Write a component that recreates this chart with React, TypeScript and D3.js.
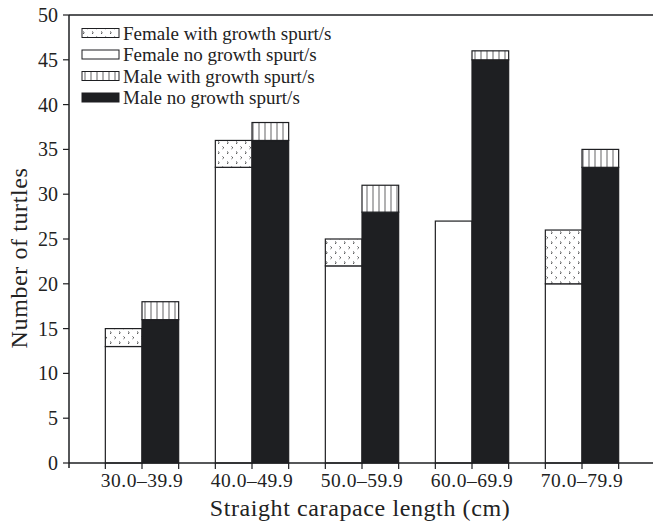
import React from "react";
import * as d3 from "d3";

const categories = ["30.0–39.9", "40.0–49.9", "50.0–59.9", "60.0–69.9", "70.0–79.9"];
const femaleNo = [13, 33, 22, 27, 20];
const femaleWith = [2, 3, 3, 0, 6];
const maleNo = [16, 36, 28, 45, 33];
const maleWith = [2, 2, 3, 1, 2];
const yTicks = [0, 5, 10, 15, 20, 25, 30, 35, 40, 45, 50];
const legendItems = [
  { label: "Female with growth spurt/s", key: "fw" },
  { label: "Female no growth spurt/s", key: "fn" },
  { label: "Male with growth spurt/s", key: "mw" },
  { label: "Male no growth spurt/s", key: "mn" },
];

const W = 653;
const H = 528;
const left = 69;
const top = 15;
const bottom = 463;
const FONT = "'Liberation Serif', 'Times New Roman', serif";
const INK = "#1e1f22";

const fillFor = (k: string) =>
  k === "fw" ? "url(#dots)" : k === "fn" ? "#fff" : k === "mw" ? "url(#vlines)" : INK;

export default function App() {
  const y = d3.scaleLinear().domain([0, 50]).range([bottom, top]);
  const x = d3.scaleBand().domain(categories).range([87, 637]).paddingInner(1 / 3).paddingOuter(1 / 6);
  const bw = x.bandwidth() / 2;

  const bars: any[] = [];
  categories.forEach((c, i) => {
    const x0 = x(c)!;
    const x1 = x0 + bw;
    bars.push({ x: x0, lo: 0, hi: femaleNo[i], k: "fn" });
    if (femaleWith[i] > 0) bars.push({ x: x0, lo: femaleNo[i], hi: femaleNo[i] + femaleWith[i], k: "fw" });
    bars.push({ x: x1, lo: 0, hi: maleNo[i], k: "mn" });
    if (maleWith[i] > 0) bars.push({ x: x1, lo: maleNo[i], hi: maleNo[i] + maleWith[i], k: "mw" });
  });

  const xTickPos: number[] = [];
  categories.forEach((c) => {
    const x0 = x(c)!;
    xTickPos.push(x0, x0 + bw, x0 + 2 * bw);
  });

  return (
    <svg width={W} height={H} style={{ position: "absolute", left: 0, top: 0, background: "#fff" }} fontFamily={FONT}>
      <defs>
        <pattern id="dots" width="9" height="10" patternUnits="userSpaceOnUse">
          <rect width="9" height="10" fill="#fff" />
          <path d="M2,1.5 l1.3,1.2 l-1.3,1.2 M6.5,6.5 l1.3,1.2 l-1.3,1.2" stroke={INK} strokeWidth="0.8" fill="none" />
        </pattern>
        <pattern id="vlines" width="6" height="10" patternUnits="userSpaceOnUse" x="0.5">
          <rect width="6" height="10" fill="#fff" />
          <line x1="0" y1="0" x2="0" y2="10" stroke={INK} strokeWidth="1.4" />
        </pattern>
      </defs>

      {bars.map((b, i) => (
        <rect
          key={i}
          x={b.x}
          y={y(b.hi)}
          width={bw}
          height={y(b.lo) - y(b.hi)}
          fill={fillFor(b.k)}
          stroke={INK}
          strokeWidth={1.2}
        />
      ))}

      {/* axes */}
      <line x1={left} y1={top} x2={W} y2={top} stroke={INK} strokeWidth={1.5} />
      <line x1={left} y1={top} x2={left} y2={bottom + 5} stroke={INK} strokeWidth={1.5} />
      <line x1={left} y1={bottom} x2={W} y2={bottom} stroke={INK} strokeWidth={1.5} />
      {yTicks.map((t) => (
        <g key={t}>
          <line x1={left - 6} x2={left} y1={y(t)} y2={y(t)} stroke={INK} strokeWidth={1.2} />
          <text x={58} y={y(t)} dy="0.35em" textAnchor="end" fontSize={20} fill="#222">
            {t}
          </text>
        </g>
      ))}
      {xTickPos.map((p, i) => (
        <line key={i} x1={p} x2={p} y1={bottom} y2={bottom + 6} stroke={INK} strokeWidth={1.2} />
      ))}
      {categories.map((c) => (
        <text key={c} x={x(c)! + bw} y={bottom + 24} textAnchor="middle" fontSize={19.5} letterSpacing={0.5} fill="#222">
          {c}
        </text>
      ))}
      <text x={360} y={516} textAnchor="middle" fontSize={24} letterSpacing={0.6} fill="#222">
        Straight carapace length (cm)
      </text>
      <text transform={`translate(27,258) rotate(-90)`} textAnchor="middle" fontSize={24} letterSpacing={0.6} fill="#222">
        Number of turtles
      </text>

      {/* legend */}
      {legendItems.map((it, i) => {
        const cy = 33 + i * 21.5;
        return (
          <g key={it.key}>
            <rect x={82} y={cy - 4.5} width={37} height={9} fill={fillFor(it.key)} stroke={INK} strokeWidth={1} />
            <text x={123} y={cy} dy="0.35em" fontSize={19} fill="#222">
              {it.label}
            </text>
          </g>
        );
      })}
    </svg>
  );
}
